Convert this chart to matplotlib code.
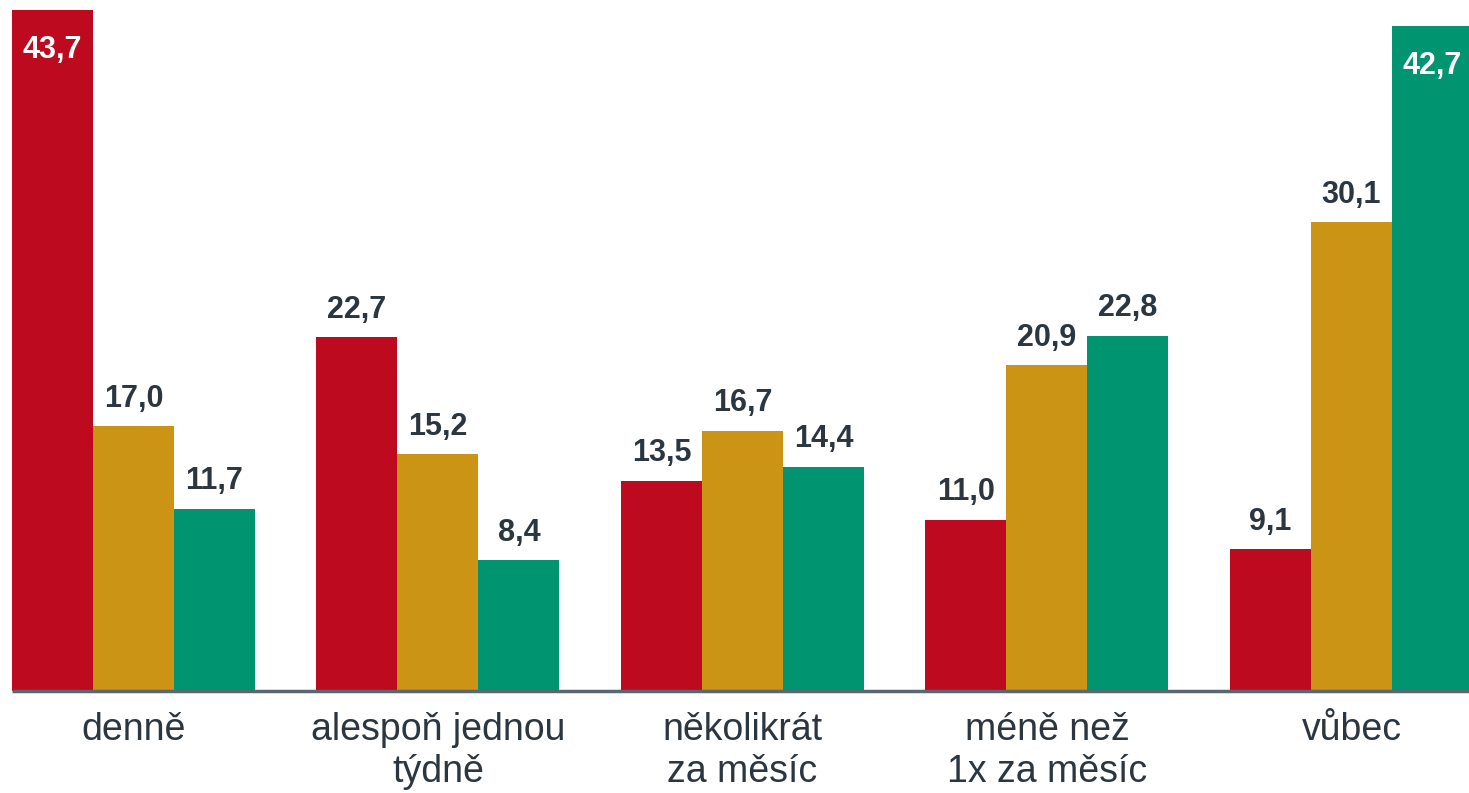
import numpy as np
import matplotlib
matplotlib.use("Agg")
import matplotlib.pyplot as plt

plt.rcParams['font.family'] = ['Liberation Sans', 'DejaVu Sans']

categories = ["denně", "alespoň jednou\ntýdně", "několikrát\nza měsíc", "méně než\n1x za měsíc", "vůbec"]
serie_a = [43.7, 22.7, 13.5, 11.0, 9.1]
serie_b = [17.0, 15.2, 16.7, 20.9, 30.1]
serie_c = [11.7, 8.4, 14.4, 22.8, 42.7]

colors = ["#BE0A1E", "#CB9414", "#009470"]
text_col = "#2B3640"


def main():
    fig = plt.figure(figsize=(14.69, 7.93), dpi=100)
    ax = fig.add_axes([0, 102 / 793, 1, 691 / 793])

    x = np.arange(len(categories))
    w = 81 / 304.5
    series = [serie_a, serie_b, serie_c]

    for i, (vals, col) in enumerate(zip(series, colors)):
        pos = x + (i - 1) * w
        ax.bar(pos, vals, width=w, color=col, linewidth=0)
        for px, v in zip(pos, vals):
            lab = f"{v:.1f}".replace(".", ",")
            if v > 40:
                ax.annotate(lab, (px, v), xytext=(0, -18), textcoords="offset points",
                            ha="center", va="top", fontsize=22, fontweight="bold", color="white")
            else:
                ax.annotate(lab, (px, v), xytext=(0, 9), textcoords="offset points",
                            ha="center", va="bottom", fontsize=22, fontweight="bold", color=text_col)

    xmin = -133.5 / 304.5
    xmax = xmin + 1469 / 304.5
    ax.set_xlim(xmin, xmax)
    ax.set_ylim(0, 691 / 15.58)

    for s in ax.spines.values():
        s.set_visible(False)
    ax.hlines(0, x[0] - 1.5 * w, xmax, color="#5B6770", linewidth=2.5, clip_on=False)

    ax.set_yticks([])
    ax.set_xticks(x)
    ax.set_xticklabels(categories, fontsize=27, color=text_col, linespacing=1.22)
    ax.tick_params(axis="x", length=0, pad=15)

    fig.savefig("out.png", dpi=100)


if __name__ == "__main__":
    main()
